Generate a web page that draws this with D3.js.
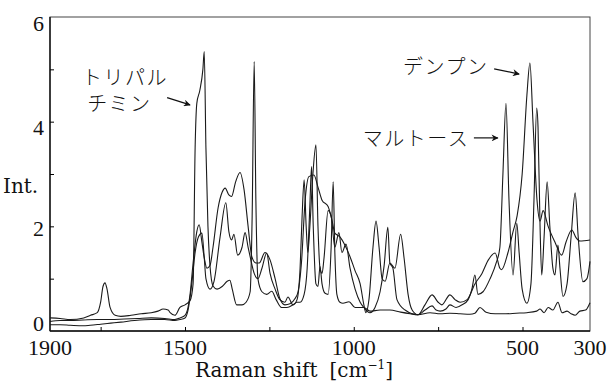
<!DOCTYPE html>
<html>
<head>
<meta charset="utf-8">
<script src="https://cdn.jsdelivr.net/npm/d3@7"></script>
<style>
	body { margin: 0; background: #fff; }
	text { fill: #111; }
</style>
</head>
<body>
<div id="chart"></div>
<script>
// Raman spectra: [wavenumber cm-1, intensity]
var tripalmitin = [
	[1900,0.25],[1870,0.24],[1840,0.22],[1800,0.25],[1780,0.3],[1760,0.35],[1750,0.55],[1743,0.85],
	[1737,0.92],[1731,0.8],[1722,0.45],[1707,0.3],[1690,0.28],[1660,0.3],[1630,0.33],[1600,0.35],
	[1580,0.38],[1565,0.42],[1550,0.4],[1544,0.35],[1530,0.3],[1515,0.45],[1500,0.5],[1485,0.58],
	[1476,0.9],[1470,3.5],[1465,4.35],[1456,4.6],[1447,5.0],[1443,5.34],[1438,3.5],[1432,2.0],
	[1426,1.25],[1417,0.86],[1405,0.8],[1390,0.85],[1375,0.95],[1367,0.97],[1360,0.8],[1347,0.5],
	[1331,0.5],[1319,0.55],[1307,0.75],[1301,2.2],[1295,5.15],[1290,2.5],[1284,1.0],[1272,0.75],
	[1258,0.7],[1243,0.76],[1230,0.6],[1214,0.45],[1198,0.45],[1180,0.5],[1168,0.55],[1159,0.55],
	[1147,0.7],[1138,1.2],[1130,2.4],[1125,3.14],[1120,2.0],[1112,0.9],[1106,0.85],[1100,1.23],
	[1094,0.9],[1085,0.72],[1076,0.7],[1067,1.6],[1061,2.85],[1056,1.5],[1050,0.7],[1041,0.55],
	[1032,0.53],[1014,0.56],[996,0.45],[970,0.45],[952,0.38],[922,0.4],[893,0.4],[861,0.36],
	[833,0.33],[810,0.31],[774,0.35],[744,0.33],[715,0.34],[685,0.33],[656,0.32],[641,0.34],
	[626,0.45],[608,0.36],[581,0.33],[549,0.33],[519,0.34],[487,0.35],[458,0.38],[448,0.42],
	[436,0.35],[424,0.45],[410,0.4],[395,0.55],[383,0.35],[368,0.38],[356,0.33],[344,0.3],
	[330,0.38],[313,0.4],[300,0.54]
];

var maltose = [
	[1900,0.12],[1870,0.12],[1840,0.11],[1802,0.1],[1781,0.11],[1750,0.13],[1720,0.15],[1690,0.17],
	[1650,0.2],[1600,0.22],[1560,0.22],[1530,0.2],[1515,0.22],[1500,0.25],[1491,0.4],[1480,0.9],
	[1470,1.5],[1460,1.8],[1450,1.87],[1443,1.4],[1438,1.0],[1426,0.8],[1414,0.95],[1396,1.8],
	[1379,2.45],[1370,1.9],[1362,1.74],[1355,1.85],[1344,1.45],[1331,1.6],[1322,1.88],[1313,1.6],
	[1307,1.42],[1295,1.1],[1284,1.0],[1272,1.2],[1258,1.49],[1248,1.1],[1233,0.8],[1219,0.6],
	[1204,0.55],[1195,0.65],[1180,0.5],[1168,0.6],[1159,1.2],[1153,2.2],[1147,2.89],[1141,2.0],
	[1136,1.5],[1130,2.0],[1121,3.0],[1112,3.56],[1106,2.0],[1100,1.2],[1094,1.1],[1088,1.4],
	[1076,2.3],[1067,2.2],[1056,1.6],[1044,1.88],[1035,1.5],[1023,1.66],[1011,1.2],[996,0.8],
	[981,0.55],[970,0.45],[952,0.35],[937,0.45],[922,0.75],[910,1.25],[899,1.98],[893,1.3],
	[884,1.2],[872,0.6],[848,0.4],[810,0.31],[789,0.4],[768,0.48],[756,0.4],[744,0.38],
	[727,0.42],[715,0.5],[697,0.45],[679,0.5],[661,0.6],[650,0.8],[641,1.07],[632,0.7],
	[617,0.75],[596,1.0],[578,1.3],[567,1.6],[558,3.0],[549,4.35],[540,2.5],[528,1.07],
	[517,2.06],[510,1.5],[501,0.8],[487,0.53],[475,0.9],[466,2.5],[458,4.26],[454,3.9],
	[448,2.0],[443,1.07],[436,1.8],[427,2.85],[419,2.0],[410,1.2],[404,1.07],[395,1.64],
	[389,1.2],[380,0.66],[368,0.9],[356,1.8],[344,2.64],[335,1.8],[321,0.94],[309,1.0],[300,1.33]
];

var starch = [
	[1900,0.18],[1870,0.2],[1840,0.2],[1802,0.21],[1760,0.22],[1720,0.22],[1680,0.23],[1640,0.24],
	[1600,0.25],[1560,0.24],[1530,0.22],[1515,0.25],[1500,0.3],[1491,0.45],[1485,0.7],[1476,1.3],
	[1465,1.9],[1458,2.03],[1450,1.7],[1443,1.4],[1435,1.2],[1426,1.25],[1417,1.6],[1402,2.35],
	[1390,2.65],[1381,2.73],[1370,2.6],[1362,2.57],[1350,2.85],[1337,3.03],[1325,2.7],[1313,2.0],
	[1302,1.42],[1290,1.3],[1280,1.3],[1263,1.5],[1248,1.36],[1233,1.0],[1219,0.62],[1204,0.5],
	[1189,0.52],[1174,0.62],[1165,0.75],[1155,1.3],[1144,2.5],[1133,2.95],[1118,2.98],[1106,2.75],
	[1094,2.5],[1076,2.38],[1064,2.1],[1056,1.87],[1041,1.8],[1026,1.64],[1011,1.42],[996,1.15],
	[981,0.9],[970,0.5],[964,0.35],[955,0.6],[943,1.6],[934,2.1],[925,1.6],[916,1.0],
	[907,0.95],[893,1.3],[878,1.2],[861,1.85],[851,1.4],[839,0.7],[827,0.4],[810,0.31],
	[789,0.5],[768,0.69],[750,0.55],[739,0.5],[715,0.69],[700,0.6],[685,0.55],[664,0.6],
	[641,0.9],[620,1.1],[602,1.35],[581,1.49],[567,1.2],[562,1.17],[543,1.5],[528,1.9],
	[516,2.2],[501,3.0],[487,4.5],[478,5.12],[469,4.0],[457,2.5],[448,2.1],[439,2.3],
	[424,2.0],[404,1.7],[384,1.45],[371,1.7],[354,1.93],[341,1.78],[330,1.72],[300,1.74]
];

var xTickLabels = [1900, 1500, 1000, 500, 300];
var xTickMarks = [1750, 1500, 1250, 1000, 750, 500];
var yTickLabels = [0, 2, 4, 6];
var yTickMarks = [1, 2, 3, 4, 5];

// annotations: text, [wavenumber, intensity] of left/centre, arrow from -> to
var labels = [
	{ text: "トリパル", at: [1805, 4.84] },
	{ text: "チミン", at: [1790, 4.34] },
	{ text: "デンプン", at: [854, 5.05] },
	{ text: "マルトース", at: [973, 3.67] }
];
var arrows = [
	{ from: [1553, 4.46], to: [1485, 4.32] },
	{ from: [584, 5.01], to: [510, 4.91] },
	{ from: [644, 3.69], to: [573, 3.69] }
];

var margin = { top: 17, right: 22, bottom: 51, left: 50 },
	width = 612 - margin.left - margin.right,
	height = 382 - margin.top - margin.bottom;

var svg = d3.select("#chart")
	.append("svg")
	.attr("width", 612)
	.attr("height", 382)
	.append("g")
	.attr("transform", "translate(" + margin.left + "," + margin.top + ")");

var x = d3.scaleLinear()
	.domain([1900, 300])
	.range([0, width]);

var y = d3.scaleLinear()
	.domain([0, 6])
	.range([height, 0]);

var numFont = "Liberation Serif, Times New Roman, serif";
var titleFont = "DejaVu Serif, serif";

// frame
svg.append("rect")
	.attr("x", 0)
	.attr("y", 0)
	.attr("width", width)
	.attr("height", height)
	.style("fill", "none")
	.style("stroke", "#444")
	.style("stroke-width", 1);
svg.append("line")
	.attr("x1", 0).attr("x2", width)
	.attr("y1", height).attr("y2", height)
	.style("stroke", "#111")
	.style("stroke-width", 1.6);
svg.append("line")
	.attr("x1", 0).attr("x2", 0)
	.attr("y1", 0).attr("y2", height)
	.style("stroke", "#111")
	.style("stroke-width", 1.4);

// inward tick marks
svg.append("g")
	.attr("transform", "translate(0," + height + ")")
	.call(d3.axisBottom(x).tickValues(xTickMarks).tickSize(-4).tickFormat(""))
	.call(function(g) { g.select(".domain").remove(); });

svg.append("g")
	.call(d3.axisLeft(y).tickValues(yTickMarks).tickSize(-4).tickFormat(""))
	.call(function(g) { g.select(".domain").remove(); });

// tick labels
svg.append("g")
	.selectAll("text")
	.data(xTickLabels)
	.enter()
	.append("text")
	.attr("x", function(d) { return x(d); })
	.attr("y", height + 24)
	.attr("text-anchor", "middle")
	.attr("font-family", numFont)
	.attr("font-size", 22)
	.text(function(d) { return d; });

// baseline shift of each y label below its value (as printed)
var yLabelShift = { 0: 0, 2: 9.5, 4: 13.5, 6: 14 };
svg.append("g")
	.selectAll("text")
	.data(yTickLabels)
	.enter()
	.append("text")
	.attr("x", -6)
	.attr("y", function(d) { return y(d) + yLabelShift[d]; })
	.attr("text-anchor", "end")
	.attr("font-family", numFont)
	.attr("font-size", 22)
	.text(function(d) { return d; });

// axis titles
svg.append("text")
	.attr("x", -47)
	.attr("y", 176)
	.attr("font-family", titleFont)
	.attr("font-size", 20)
	.text("Int.");

var xTitle = svg.append("text")
	.attr("x", 145)
	.attr("y", height + 46)
	.attr("font-family", titleFont)
	.attr("font-size", 20);
xTitle.append("tspan").text("Raman shift");
xTitle.append("tspan").attr("dx", 12).text("[cm");
xTitle.append("tspan")
	.attr("dy", -8)
	.attr("font-size", 12)
	.text("\u22121");
xTitle.append("tspan")
	.attr("dy", 8)
	.text("]");

// spectra
var line = d3.line()
	.x(function(d) { return x(d[0]); })
	.y(function(d) { return y(d[1]); })
	.curve(d3.curveMonotoneX);

svg.append("g")
	.selectAll("path")
	.data([tripalmitin, maltose, starch])
	.enter()
	.append("path")
	.attr("d", line)
	.style("fill", "none")
	.style("stroke", "#1a1a1a")
	.style("stroke-width", 1.1);

// annotations
svg.append("g")
	.selectAll("text")
	.data(labels)
	.enter()
	.append("text")
	.attr("x", function(d) { return x(d.at[0]); })
	.attr("y", function(d) { return y(d.at[1]); })
	.attr("dy", "0.36em")
	.attr("font-family", "Noto Sans CJK JP, sans-serif")
	.attr("font-weight", 300)
	.attr("font-size", 20)
	.attr("letter-spacing", 1.5)
	.text(function(d) { return d.text; });

var defs = svg.append("defs");
defs.append("marker")
	.attr("id", "arrowhead")
	.attr("viewBox", "0 0 10 10")
	.attr("refX", 9)
	.attr("refY", 5)
	.attr("markerWidth", 9)
	.attr("markerHeight", 7)
	.attr("markerUnits", "userSpaceOnUse")
	.attr("orient", "auto")
	.append("path")
	.attr("d", "M0,0 L10,5 L0,10 L3,5 Z")
	.style("fill", "#111");

svg.append("g")
	.selectAll("line")
	.data(arrows)
	.enter()
	.append("line")
	.attr("x1", function(d) { return x(d.from[0]); })
	.attr("y1", function(d) { return y(d.from[1]); })
	.attr("x2", function(d) { return x(d.to[0]); })
	.attr("y2", function(d) { return y(d.to[1]); })
	.style("stroke", "#111")
	.style("stroke-width", 1.2)
	.attr("marker-end", "url(#arrowhead)");
</script>
</body>
</html>
